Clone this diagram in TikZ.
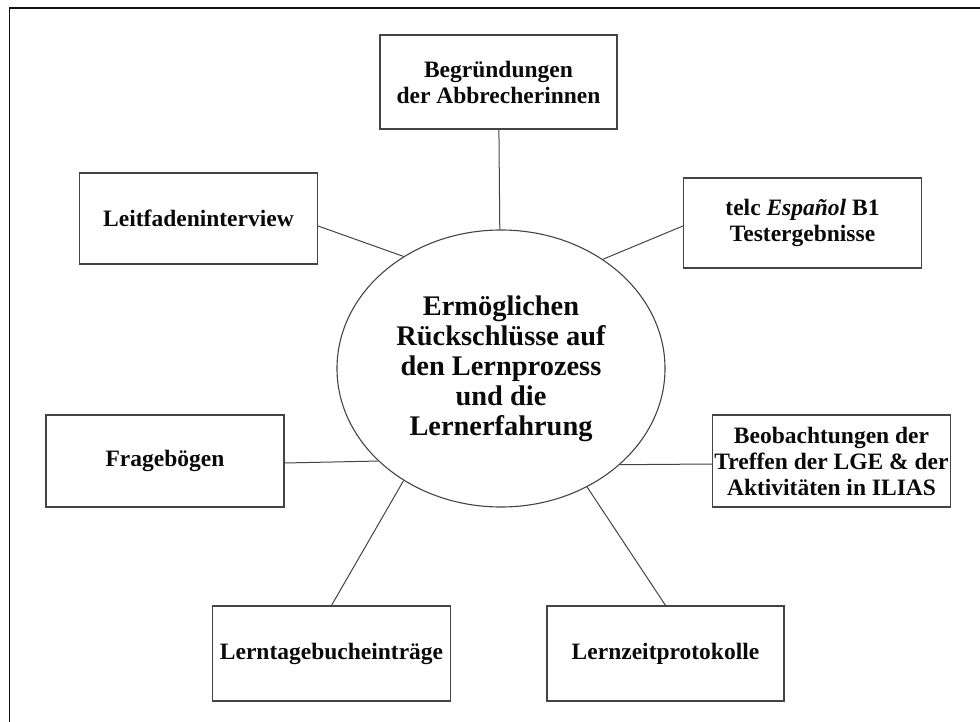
\documentclass[tikz,border=0pt]{standalone}
\usepackage{fontspec}
\setmainfont{Liberation Serif}
\usepackage{tikz}
\usetikzlibrary{shapes.geometric,positioning}
\definecolor{Frame}{HTML}{111111}
\definecolor{Edge}{HTML}{444444}
\definecolor{Ink}{HTML}{0A0A0A}

\begin{document}
\begin{tikzpicture}[x=1pt,y=-1pt,
  srcbox/.style={draw=Edge,line width=1.2pt,minimum width=238pt,minimum height=93pt,
    align=center,text=Ink,font=\fontsize{23.5}{26}\selectfont\bfseries,inner sep=2pt},
  hub/.style={draw=Edge,line width=1.1pt,ellipse,minimum width=328pt,minimum height=277pt,
    inner sep=0pt,align=center,text=Ink,font=\fontsize{28.4}{30}\selectfont\bfseries},
  link/.style={draw=Edge,line width=1pt}]
  \useasboundingbox (0,0) rectangle (980,722);
  \draw[Frame,line width=1.6pt] (9.5,8) rectangle (995,740);
  % centre
  \node[hub] (ell) at (501,368.5) {Ermöglichen\\Rückschlüsse auf\\den Lernprozess\\und die\\Lernerfahrung};
  % sources
  \node[srcbox,minimum width=237pt,minimum height=94pt] (begr) at (498.5,82) {Begründungen\\der Abbrecherinnen};
  \node[srcbox,minimum height=91pt] (lf) at (198.5,218.5) {Leitfadeninterview};
  \node[srcbox,minimum height=90pt] (telc) at (802.5,223) {telc \textit{Español} B1\\Testergebnisse};
  \node[srcbox,minimum height=92pt] (fb) at (165,461) {Fragebögen};
  \node[srcbox,minimum height=92pt] (beob) at (831.5,461) {Beobachtungen der\\Treffen der LGE \& der\\Aktivitäten in ILIAS};
  \node[srcbox,minimum height=95pt] (ltb) at (331.5,653.5) {Lerntagebucheinträge};
  \node[srcbox,minimum width=237pt,minimum height=95pt] (lzp) at (665.5,653.5) {Lernzeitprotokolle};
  % connectors
  \draw[link] (begr) -- (ell);
  \draw[link] ([yshift=-7.5pt]lf.east) -- (ell.131.9);
  \draw[link] ([yshift=-3pt]telc.west) -- (ell.47.3);
  \draw[link] ([yshift=-2pt]fb.east) -- (ell.217.8);
  \draw[link] ([yshift=-3pt]beob.west) -- (ell.321.7);
  \draw[link] (ltb.north) -- (ell.229.4);
  \draw[link] (lzp.north) -- (ell.306.4);
\end{tikzpicture}
\end{document}
